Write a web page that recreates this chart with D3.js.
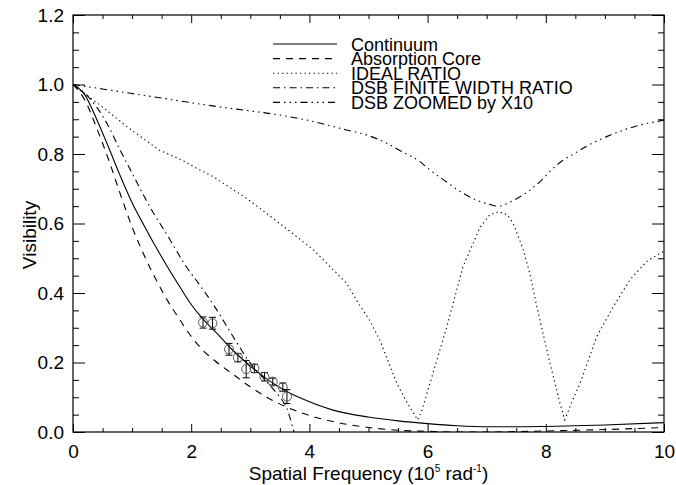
<!DOCTYPE html>
<html>
<head>
<meta charset="utf-8">
<script src="https://cdn.jsdelivr.net/npm/d3@7"></script>
<style>
  body { margin: 0; background: #fff; }
  text { font-family: "Liberation Sans", Arial, Helvetica, sans-serif; fill: #000; }
</style>
</head>
<body>
<div id="chart"></div>
<script>
// values
var continuumX = [0, 0.2, 0.4, 0.6, 0.8, 1.0, 1.2, 1.4, 1.6, 1.8, 2.0, 2.2, 2.4, 2.7, 3.0, 3.3, 3.6, 3.9, 4.4, 5.0, 5.5, 6.0, 6.5, 7.0, 7.5, 8.0, 9.0, 10];
var continuumV = [1.0, 0.97, 0.90, 0.82, 0.737, 0.66, 0.595, 0.533, 0.475, 0.42, 0.367, 0.325, 0.29, 0.236, 0.19, 0.15, 0.118, 0.094, 0.063, 0.043, 0.032, 0.024, 0.018, 0.015, 0.015, 0.016, 0.02, 0.027];

var coreX = [0, 0.2, 0.4, 0.6, 0.8, 1.0, 1.2, 1.4, 1.6, 1.8, 2.0, 2.2, 2.4, 2.7, 3.0, 3.3, 3.6, 3.9, 4.4, 5.0, 5.5, 6.0, 6.5, 7.0, 7.5, 8.0, 9.0, 10];
var coreV = [1.0, 0.955, 0.875, 0.785, 0.685, 0.59, 0.51, 0.44, 0.378, 0.325, 0.275, 0.235, 0.205, 0.167, 0.13, 0.098, 0.073, 0.053, 0.030, 0.013, 0.005, 0.002, 0.0, 0.0, 0.001, 0.003, 0.007, 0.013];

var idealX = [0, 0.12, 0.5, 0.91, 1.2, 1.47, 1.84, 2.09, 2.37, 2.94, 3.5, 4.07, 4.63, 4.83, 5.0, 5.19, 5.48, 5.65, 5.76, 5.83, 5.9, 6.04, 6.32, 6.6, 6.89, 7.05, 7.2, 7.35, 7.45, 7.62, 7.73, 7.85, 8.07, 8.24, 8.32, 8.45, 8.58, 8.86, 9.14, 9.42, 9.7, 9.93, 10];
var idealV = [1.0, 0.984, 0.935, 0.879, 0.843, 0.81, 0.783, 0.759, 0.735, 0.672, 0.6, 0.524, 0.428, 0.37, 0.327, 0.265, 0.14, 0.085, 0.055, 0.035, 0.06, 0.14, 0.3, 0.476, 0.59, 0.625, 0.634, 0.625, 0.6, 0.524, 0.455, 0.36, 0.198, 0.083, 0.035, 0.09, 0.14, 0.274, 0.36, 0.437, 0.49, 0.514, 0.52];

var finiteX = [0, 0.2, 0.4, 0.6, 0.8, 1.0, 1.3, 1.6, 1.9, 2.2, 2.4, 2.7, 3.0, 3.3, 3.5, 3.62, 3.73, 3.8];
var finiteV = [1.0, 0.975, 0.935, 0.88, 0.81, 0.745, 0.648, 0.565, 0.48, 0.41, 0.36, 0.277, 0.198, 0.14, 0.10, 0.068, 0.006, -0.03];

var zoomedX = [0, 0.5, 1.0, 1.5, 1.87, 2.5, 3.0, 3.5, 4.0, 4.63, 5.0, 5.31, 5.53, 5.87, 6.04, 6.3, 6.6, 6.89, 7.05, 7.2, 7.4, 7.73, 7.93, 8.1, 8.3, 8.47, 8.75, 9.03, 9.3, 9.59, 10];
var zoomedV = [1.0, 0.987, 0.974, 0.961, 0.951, 0.935, 0.924, 0.912, 0.896, 0.869, 0.853, 0.831, 0.81, 0.778, 0.754, 0.722, 0.687, 0.663, 0.655, 0.65, 0.662, 0.696, 0.725, 0.755, 0.783, 0.8, 0.828, 0.85, 0.868, 0.883, 0.897];

var obsX = [2.2, 2.36, 2.64, 2.79, 2.93, 3.07, 3.24, 3.38, 3.55, 3.62];
var obsV = [0.315, 0.313, 0.238, 0.214, 0.181, 0.183, 0.159, 0.145, 0.129, 0.102];
var obsErr = [0.016, 0.017, 0.017, 0.012, 0.025, 0.012, 0.012, 0.01, 0.012, 0.02];

var xTicks = [0, 2, 4, 6, 8, 10];
var yTicks = [0.0, 0.2, 0.4, 0.6, 0.8, 1.0, 1.2];

var legendNames = ["Continuum", "Absorption Core", "IDEAL RATIO", "DSB FINITE WIDTH RATIO", "DSB ZOOMED by X10"];

// chart setup
var svgWidth = 676;
var svgHeight = 485;
var margin = { top: 15, right: 12, bottom: 53, left: 73 };
var width = svgWidth - margin.left - margin.right;
var height = svgHeight - margin.top - margin.bottom;

var svg = d3.select("#chart")
  .append("svg")
  .attr("width", svgWidth)
  .attr("height", svgHeight);

var chartGroup = svg.append("g")
  .attr("transform", `translate(${margin.left}, ${margin.top})`);

var xScale = d3.scaleLinear().domain([0, 10]).range([0, width]);
var yScale = d3.scaleLinear().domain([0, 1.2]).range([height, 0]);

var xMinor = d3.range(0, 10.01, 0.5).filter(d => Math.abs(d / 2 - Math.round(d / 2)) > 0.01);
var yMinor = d3.range(0, 1.201, 0.05).filter(d => Math.abs(d / 0.2 - Math.round(d / 0.2)) > 0.01);

// clip for curves
chartGroup.append("clipPath").attr("id", "plotClip")
  .append("rect").attr("width", width).attr("height", height);

// axes: major ticks with labels, minor ticks without, on all four sides
function styleAxis(g) {
  g.select(".domain").remove();
  g.selectAll("line").attr("stroke", "#000").attr("stroke-width", 1);
  g.selectAll("text").attr("font-size", "19px").attr("fill", "#000");
}

chartGroup.append("g")
  .attr("transform", `translate(0, ${height})`)
  .call(d3.axisBottom(xScale).tickValues(xTicks).tickFormat(d3.format("d")).tickSize(-8).tickPadding(13))
  .call(styleAxis)
  .attr("font-family", null);

chartGroup.append("g")
  .attr("transform", `translate(0, ${height})`)
  .call(d3.axisBottom(xScale).tickValues(xMinor).tickFormat("").tickSize(-4))
  .call(styleAxis);

chartGroup.append("g")
  .call(d3.axisTop(xScale).tickValues(xTicks).tickFormat("").tickSize(-8))
  .call(styleAxis);

chartGroup.append("g")
  .call(d3.axisTop(xScale).tickValues(xMinor).tickFormat("").tickSize(-4))
  .call(styleAxis);

chartGroup.append("g")
  .call(d3.axisLeft(yScale).tickValues(yTicks).tickFormat(d3.format(".1f")).tickSize(-12).tickPadding(9))
  .call(styleAxis)
  .attr("font-family", null);

chartGroup.append("g")
  .call(d3.axisLeft(yScale).tickValues(yMinor).tickFormat("").tickSize(-6))
  .call(styleAxis);

chartGroup.append("g")
  .attr("transform", `translate(${width}, 0)`)
  .call(d3.axisRight(yScale).tickValues(yTicks).tickFormat("").tickSize(-12))
  .call(styleAxis);

chartGroup.append("g")
  .attr("transform", `translate(${width}, 0)`)
  .call(d3.axisRight(yScale).tickValues(yMinor).tickFormat("").tickSize(-6))
  .call(styleAxis);

// frame
chartGroup.append("rect")
  .attr("width", width)
  .attr("height", height)
  .attr("fill", "none")
  .attr("stroke", "#000")
  .attr("stroke-width", 1.2);

// axis titles
var xTitle = chartGroup.append("text")
  .attr("x", width / 2)
  .attr("y", height + 48)
  .attr("text-anchor", "middle")
  .attr("font-size", "19px");
xTitle.append("tspan").text("Spatial Frequency (10");
xTitle.append("tspan").attr("font-size", "10px").attr("dy", "-8").text("5");
xTitle.append("tspan").attr("dy", "8").text(" rad");
xTitle.append("tspan").attr("font-size", "10px").attr("dy", "-8").text("-1");
xTitle.append("tspan").attr("dy", "8").text(")");

chartGroup.append("text")
  .attr("transform", "rotate(-90)")
  .attr("x", -220)
  .attr("y", -37)
  .attr("text-anchor", "middle")
  .attr("font-size", "19px")
  .text("Visibility");

// curves
var series = [
  { xs: continuumX, vs: continuumV, dash: null, curve: d3.curveMonotoneX },
  { xs: coreX, vs: coreV, dash: "7,6", curve: d3.curveMonotoneX },
  { xs: idealX, vs: idealV, dash: "1.3,3.2", curve: d3.curveLinear },
  { xs: finiteX, vs: finiteV, dash: "7,4,1.5,4", curve: d3.curveMonotoneX },
  { xs: zoomedX, vs: zoomedV, dash: "7,4,1.5,4,1.5,4,1.5,4", curve: d3.curveMonotoneX }
];

var curveGroup = chartGroup.append("g").attr("clip-path", "url(#plotClip)");

series.forEach(function(s) {
  var pts = s.xs.map((x, i) => [x, s.vs[i]]);
  var line = d3.line()
    .x(d => xScale(d[0]))
    .y(d => yScale(d[1]))
    .curve(s.curve);
  curveGroup.append("path")
    .datum(pts)
    .attr("d", line)
    .attr("fill", "none")
    .attr("stroke", "#000")
    .attr("stroke-width", 1.1)
    .attr("stroke-dasharray", s.dash);
});

// observed points with error bars
var obs = obsX.map((x, i) => ({ x: x, v: obsV[i], e: obsErr[i] }));

var errGroup = chartGroup.selectAll(".err")
  .data(obs)
  .enter()
  .append("g")
  .attr("class", "err");

errGroup.append("line")
  .attr("x1", d => xScale(d.x)).attr("x2", d => xScale(d.x))
  .attr("y1", d => yScale(d.v - d.e)).attr("y2", d => yScale(d.v + d.e))
  .attr("stroke", "#000").attr("stroke-width", 1);

errGroup.append("line")
  .attr("x1", d => xScale(d.x) - 3.5).attr("x2", d => xScale(d.x) + 3.5)
  .attr("y1", d => yScale(d.v + d.e)).attr("y2", d => yScale(d.v + d.e))
  .attr("stroke", "#000").attr("stroke-width", 1);

errGroup.append("line")
  .attr("x1", d => xScale(d.x) - 3.5).attr("x2", d => xScale(d.x) + 3.5)
  .attr("y1", d => yScale(d.v - d.e)).attr("y2", d => yScale(d.v - d.e))
  .attr("stroke", "#000").attr("stroke-width", 1);

errGroup.append("circle")
  .attr("cx", d => xScale(d.x))
  .attr("cy", d => yScale(d.v))
  .attr("r", 4.5)
  .attr("fill", "none")
  .attr("stroke", "#555")
  .attr("stroke-width", 1);

// legend (no box); rows sit tightly as in the reference
var legendDash = [null, "7,6", "1.3,3.2", "7,4,1.5,4", "7,4,1.5,4,1.5,4,1.5,4"];
var legend = chartGroup.append("g")
  .attr("transform", "translate(200, 29)");

legendNames.forEach(function(name, i) {
  var row = legend.append("g").attr("transform", `translate(0, ${i * 14.6})`);
  row.append("line")
    .attr("x1", 0).attr("x2", 64)
    .attr("y1", 0).attr("y2", 0)
    .attr("stroke", "#000")
    .attr("stroke-width", 1.1)
    .attr("stroke-dasharray", legendDash[i]);
  row.append("text")
    .attr("x", 78)
    .attr("y", 6.5)
    .attr("font-size", "18px")
    .text(name);
});
</script>
</body>
</html>
